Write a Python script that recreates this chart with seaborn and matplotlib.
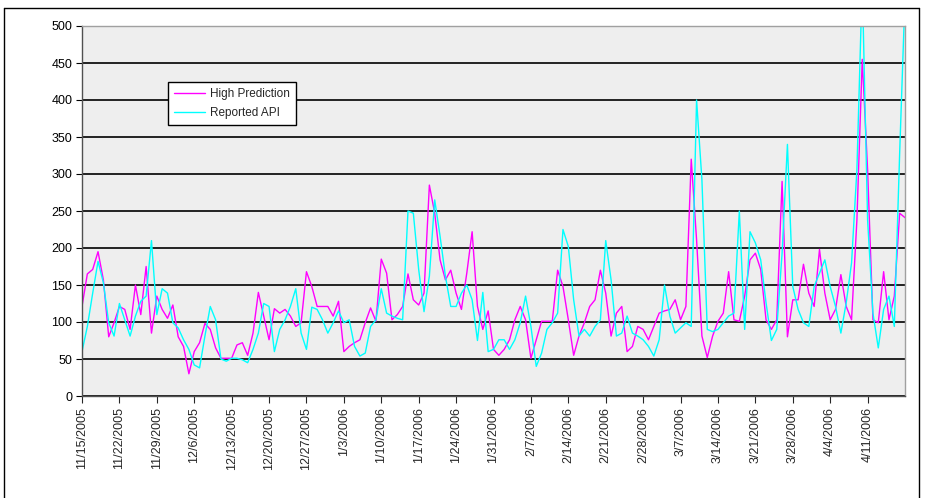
import matplotlib
matplotlib.use("Agg")
import matplotlib.pyplot as plt
import matplotlib.dates as mdates
from matplotlib.lines import Line2D
import pandas as pd
import seaborn as sns

start_date = "2005-11-15"
end_date = "2006-04-18"
series_names = ["High Prediction", "Reported API"]

high_prediction = [
    121, 165, 171, 195, 157, 80, 99, 121, 117, 90,
    150, 110, 175, 85, 135, 117, 105, 123, 80, 67,
    30, 60, 72, 98, 90, 65,
    51, 51, 51, 69, 72, 55, 85, 140, 108, 76,
    118, 112, 117, 108, 94, 99, 168, 148, 121, 121,
    121, 108, 128, 60, 67, 72,
    76, 99, 119, 101, 185, 166, 103, 110, 121, 165,
    130, 123, 139, 285, 247, 184, 157, 170, 139, 117,
    166, 222, 121, 90, 115, 63,
    55, 63, 76, 103, 121, 103, 51, 76, 101, 101,
    101, 170, 148, 103, 55, 81, 99, 121, 130, 170,
    139, 81, 112, 121, 60, 67,
    94, 90, 76, 94, 112, 115, 117, 130, 103, 121,
    320, 211, 81, 52, 81, 101, 112, 168, 103, 101,
    135, 184, 193, 171, 103, 90,
    103, 290, 80, 130, 130, 178, 139, 121, 198, 139,
    103, 117, 164, 121, 103, 238, 455, 306, 103, 99,
    168, 103, 135, 247, 241,
]

reported_api = [
    60, 94, 139, 182, 153, 99, 81, 125, 103, 81,
    108, 128, 135, 210, 110, 145, 139, 99, 92, 76,
    63, 42, 38, 81, 121, 103,
    50, 47, 51, 51, 49, 45, 63, 85, 125, 121,
    60, 90, 103, 121, 145, 85, 63, 120, 117, 103,
    85, 99, 115, 99, 103, 67,
    54, 58, 94, 103, 145, 112, 108, 105, 103, 250,
    247, 171, 114, 162, 265, 216, 162, 121, 121, 139,
    150, 130, 75, 140, 60, 63,
    76, 76, 63, 76, 99, 135, 94, 40, 58, 90,
    99, 112, 225, 202, 130, 81, 90, 81, 94, 103,
    210, 157, 81, 85, 108, 85,
    81, 76, 67, 54, 76, 150, 108, 85, 92, 99,
    94, 400, 292, 90, 87, 90, 99, 108, 112, 250,
    90, 222, 207, 184, 126, 75,
    90, 193, 340, 148, 117, 99, 94, 148, 166, 184,
    148, 121, 85, 126, 180, 306, 560, 238, 112, 65,
    117, 135, 94, 328, 540,
]

y_ticks = [0, 50, 100, 150, 200, 250, 300, 350, 400, 450, 500]

dates = pd.date_range(start_date, periods=len(high_prediction), freq="D")
df = pd.DataFrame({"date": dates,
                   series_names[0]: high_prediction,
                   series_names[1]: reported_api})
long_df = df.melt(id_vars="date", var_name="series", value_name="value")

sns.set_style("white")
plt.rcParams["font.family"] = ["Liberation Sans", "DejaVu Sans"]

fig = plt.figure(figsize=(9.25, 4.98), dpi=100)
ax = fig.add_axes([82 / 925, 1 - 396 / 498, 823 / 925, 370 / 498])
ax.set_facecolor("#EEEEEE")

sns.lineplot(data=long_df, x="date", y="value", hue="series",
             palette={series_names[0]: "#FF00FF", series_names[1]: "#00FFFF"},
             linewidth=1.0, ax=ax, legend=True)

ax.set_ylim(0, 500)
ax.set_yticks(y_ticks)
ax.set_xlim(pd.Timestamp(start_date), pd.Timestamp(end_date))
ax.xaxis.set_major_locator(mdates.DayLocator(bymonthday=None, interval=7))
tick_dates = pd.date_range(start_date, "2006-04-11", freq="7D")
ax.set_xticks(tick_dates)
ax.set_xticklabels([f"{d.month}/{d.day}/{d.year}" for d in tick_dates],
                   rotation=90, fontsize=9)
ax.tick_params(axis="y", labelsize=9, length=4, width=0.8, direction="out",
               colors="#000000", pad=3, left=True)
ax.tick_params(axis="x", length=5, width=0.8, direction="out", pad=3, bottom=True)
ax.set_xlabel("")
ax.set_ylabel("")

ax.yaxis.grid(True, color="black", linewidth=1.2)
ax.xaxis.grid(False)
ax.set_axisbelow(True)

for side in ["left", "bottom"]:
    ax.spines[side].set_color("#505050")
    ax.spines[side].set_linewidth(1.0)
for side in ["top", "right"]:
    ax.spines[side].set_color("#A0A0A0")
    ax.spines[side].set_linewidth(1.0)

leg = ax.legend(title=None, loc="upper left",
                bbox_to_anchor=((168 - 82) / 823, (396 - 82) / 370),
                borderaxespad=0, frameon=True, fancybox=False, shadow=False,
                fontsize=8.5, handlelength=2.6, handletextpad=0.4,
                labelspacing=0.55, borderpad=0.55)
leg.get_frame().set_edgecolor("black")
leg.get_frame().set_linewidth(1.0)
leg.get_frame().set_facecolor("white")
leg.get_frame().set_alpha(1)

# outer chart border
fig.add_artist(Line2D([4 / 925, 919 / 925], [1 - 8 / 498, 1 - 8 / 498],
                      color="black", linewidth=1.0, transform=fig.transFigure))
fig.add_artist(Line2D([4 / 925, 4 / 925], [1 - 8 / 498, 0],
                      color="black", linewidth=1.0, transform=fig.transFigure))
fig.add_artist(Line2D([919 / 925, 919 / 925], [1 - 8 / 498, 0],
                      color="black", linewidth=1.0, transform=fig.transFigure))

fig.savefig("out.png", dpi=100)
